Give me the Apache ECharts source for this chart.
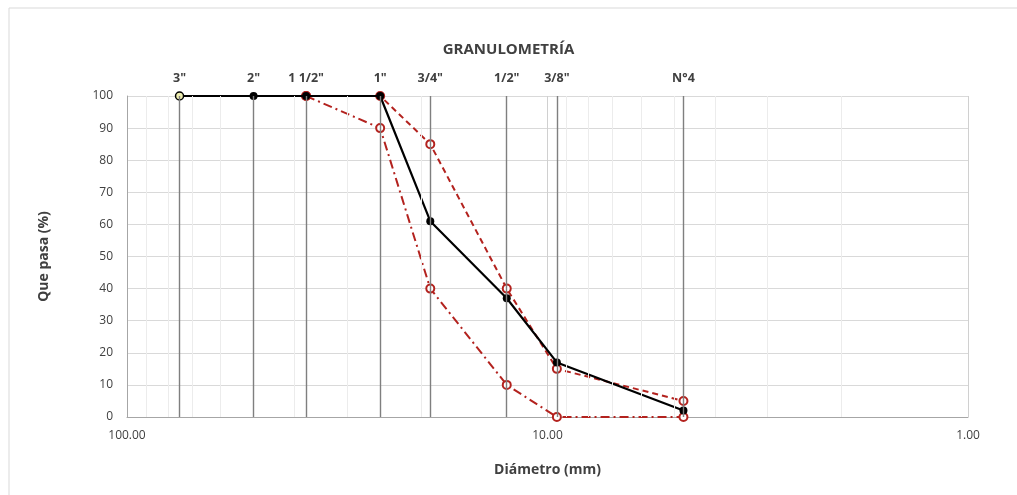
<!DOCTYPE html>
<html><head><meta charset="utf-8">
<script src="https://cdn.jsdelivr.net/npm/echarts@6/dist/echarts.min.js"></script>
<style>html,body{margin:0;padding:0;background:#fff}#c{width:1017px;height:495px}</style>
</head><body><div id="c"></div>
<script>
const sieveNames = ['3"', '2"', '1 1/2"', '1"', '3/4"', '1/2"', '3/8"', 'N°4'];
const sieveSizes = [75, 50, 37.5, 25, 19, 12.5, 9.5, 4.75];
const muestraPasa = [100, 100, 100, 100, 61, 37, 17, 2];
const limSupSizes = [37.5, 25, 19, 12.5, 9.5, 4.75];
const limSupPasa = [100, 100, 85, 40, 15, 5];
const limInfSizes = [37.5, 25, 19, 12.5, 9.5, 4.75];
const limInfPasa = [100, 90, 40, 10, 0, 0];
const minorLines = [90, 80, 70, 60, 50, 40, 30, 20, 9, 8, 7, 6, 5, 4, 3, 2];
const xTicks = [100, 10, 1];

const red = '#b3221e';
const chart = echarts.init(document.getElementById('c'));
const font = '"Open Sans", "Noto Sans", sans-serif';

chart.setOption({
  backgroundColor: '#fff',
  animation: false,
  textStyle: { fontFamily: font },
  title: {
    text: 'GRANULOMETRÍA', left: 'center', top: 37,
    textStyle: { fontSize: 15, fontWeight: 'bold', color: '#404040', fontFamily: font }
  },
  graphic: [
    { type: 'line', shape: { x1: 9, y1: 8, x2: 1017, y2: 8 }, style: { stroke: '#d9d9d9', lineWidth: 1 } },
    { type: 'line', shape: { x1: 9, y1: 8, x2: 9, y2: 495 }, style: { stroke: '#d9d9d9', lineWidth: 1 } }
  ],
  grid: { left: 127, right: 49, top: 96, bottom: 78 },
  xAxis: {
    type: 'log', logBase: 10, min: 1, max: 100, inverse: true,
    name: 'Diámetro (mm)', nameLocation: 'middle', nameGap: 46,
    nameTextStyle: { fontSize: 14, fontWeight: 'bold', color: '#404040' },
    axisLine: { show: true, lineStyle: { color: '#a6a6a6' } },
    axisTick: { show: false },
    axisLabel: {
      fontSize: 12, color: '#404040', margin: 13,
      formatter: v => (xTicks.indexOf(Math.round(v)) >= 0 ? Number(v).toFixed(2) : '')
    },
    splitLine: { show: true, lineStyle: { color: '#d0d0d0' } }
  },
  yAxis: {
    type: 'value', min: 0, max: 100, interval: 10,
    name: 'Que pasa (%)', nameLocation: 'middle', nameGap: 76,
    nameTextStyle: { fontSize: 14, fontWeight: 'bold', color: '#404040' },
    axisLine: { show: true, lineStyle: { color: '#a6a6a6' } },
    axisTick: { show: false },
    axisLabel: { fontSize: 12, color: '#404040', margin: 14 },
    splitLine: { show: true, lineStyle: { color: '#d9d9d9' } }
  },
  series: [
    {
      name: 'minor', type: 'line', data: [], silent: true,
      markLine: {
        silent: true, symbol: 'none', label: { show: false },
        lineStyle: { color: '#ececec', type: 'solid', width: 1 },
        data: minorLines.map(v => ({ xAxis: v }))
      }
    },
    {
      name: 'tamices', type: 'line', data: [], silent: true,
      markLine: {
        silent: true, symbol: 'none',
        lineStyle: { color: '#7f7f7f', type: 'solid', width: 1.4 },
        label: {
          show: true, position: 'end', distance: 11,
          fontSize: 12.5, fontWeight: 'bold', color: '#404040',
          formatter: p => p.name
        },
        data: sieveSizes.map((v, i) => ({ xAxis: v, name: sieveNames[i] }))
      }
    },
    {
      name: 'Límite inferior', type: 'line',
      data: limInfSizes.map((v, i) => [v, limInfPasa[i]]),
      symbol: 'emptyCircle', symbolSize: 8,
      itemStyle: { color: red, borderWidth: 1.3 },
      lineStyle: { color: red, width: 2, type: [9, 4, 2, 4] },
      z: 3
    },
    {
      name: 'Límite superior', type: 'line',
      data: limSupSizes.map((v, i) => [v, limSupPasa[i]]),
      symbol: 'emptyCircle', symbolSize: 8,
      itemStyle: { color: red, borderWidth: 1.3 },
      lineStyle: { color: red, width: 2, type: [6, 4] },
      z: 3
    },
    {
      name: 'Muestra', type: 'line',
      data: sieveSizes.map((v, i) => i === 0
        ? { value: [v, muestraPasa[i]], itemStyle: { color: '#eeeeb0', borderColor: '#000', borderWidth: 1.5 } }
        : [v, muestraPasa[i]]),
      symbol: 'circle', symbolSize: 8,
      itemStyle: { color: '#000' },
      lineStyle: { color: '#000', width: 2.2 },
      z: 4
    }
  ]
});
</script></body></html>
